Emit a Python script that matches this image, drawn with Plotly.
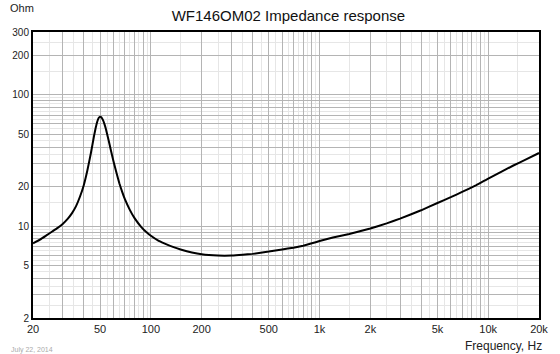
import plotly.graph_objects as go

# ---- data ----
freq_hz = [20, 22, 24, 26, 28, 30, 32, 34, 36, 38, 40, 42, 44, 46, 47, 48, 49, 50, 51, 52, 53,
           54, 56, 58, 60, 62.5, 65, 67.5, 70, 75, 80, 88, 95, 100, 110, 120, 135, 150, 175,
           200, 250, 300, 350, 400, 500, 600, 700, 800, 900, 1000, 1200, 1500, 2000, 2500,
           3000, 4000, 5000, 6000, 7000, 8500, 10000, 12000, 14000, 17000, 20000]
impedance_ohm = [7.4, 7.9, 8.5, 9.1, 9.7, 10.4, 11.3, 12.5, 14.2, 16.8, 20.5, 26.5, 35.5, 48.5,
                 55.5, 62, 66.5, 68, 67, 64, 60, 55.3, 45.7, 37.5, 31.2, 25.5, 21.2, 18.3, 16.1,
                 13.3, 11.5, 9.8, 8.9, 8.45, 7.8, 7.4, 6.95, 6.65, 6.3, 6.1, 5.97, 5.97, 6.05,
                 6.15, 6.4, 6.65, 6.85, 7.1, 7.4, 7.7, 8.2, 8.7, 9.6, 10.5, 11.4, 13.2, 15.0,
                 16.6, 18.2, 20.5, 23, 26, 28.8, 32.5, 36]

x_labels = {20: "20", 50: "50", 100: "100", 200: "200", 500: "500", 1000: "1k",
            2000: "2k", 5000: "5k", 10000: "10k", 20000: "20k"}
y_labels = {2: "2", 5: "5", 10: "10", 20: "20", 50: "50", 100: "100", 200: "200", 300: "300"}

title_text = "WF146OM02 Impedance response"
y_unit = "Ohm"
x_unit = "Frequency, Hz"
date_text = "July 22, 2014"


def grid_values(lo, hi):
    major, minor = [], []
    dec = 1
    while dec <= hi:
        for d in range(1, 10):
            v = d * dec
            if lo <= v <= hi:
                major.append(v)
            h = (d + 0.5) * dec
            if lo <= h <= hi:
                minor.append(h)
        dec *= 10
    return major, minor


xmaj, xmin = grid_values(20, 20000)
ymaj, ymin = grid_values(2, 300)

fig = go.Figure()
fig.add_trace(go.Scatter(x=freq_hz, y=impedance_ohm, mode="lines",
                         line=dict(color="black", width=2, shape="spline", smoothing=0.3),
                         hoverinfo="skip", showlegend=False))

font = "Liberation Sans, Arial, sans-serif"
fig.update_layout(
    width=560, height=354,
    margin=dict(l=29, r=12, t=32, b=36),
    paper_bgcolor="white", plot_bgcolor="white",
    font=dict(family=font, size=11, color="#222"),
    title=dict(text=title_text, x=0.515, xanchor="center", y=0.955, yanchor="middle",
               font=dict(size=15, color="#111")),
    xaxis=dict(type="log", range=[1.30103, 4.30103],
               tickvals=xmaj, ticktext=[x_labels.get(v, "") for v in xmaj],
               showgrid=True, gridcolor="#b4b4b4", gridwidth=1,
               minor=dict(tickvals=xmin, showgrid=True, gridcolor="#e6e6e6", gridwidth=1, ticks=""),
               ticks="", showline=True, linecolor="black", linewidth=2, mirror=True,
               zeroline=False, tickfont=dict(size=11, color="#222")),
    yaxis=dict(type="log", range=[0.30103, 2.4771213],
               tickvals=ymaj, ticktext=[y_labels.get(v, "") for v in ymaj],
               showgrid=True, gridcolor="#b4b4b4", gridwidth=1,
               minor=dict(tickvals=ymin, showgrid=True, gridcolor="#e6e6e6", gridwidth=1, ticks=""),
               ticks="", showline=True, linecolor="black", linewidth=2, mirror=True,
               zeroline=False, tickfont=dict(size=10, color="#222")),
    annotations=[
        dict(text=y_unit, xref="paper", yref="paper", x=-0.05, y=1.055, xanchor="left",
             yanchor="bottom", showarrow=False, font=dict(size=11, color="#222")),
        dict(text=x_unit, xref="paper", yref="paper", x=1.01, y=-0.068, xanchor="right",
             yanchor="top", showarrow=False, font=dict(size=12, color="#222")),
        dict(text=date_text, xref="paper", yref="paper", x=-0.047, y=-0.09, xanchor="left",
             yanchor="top", showarrow=False, font=dict(size=7, color="#aaa")),
    ],
)

fig.write_html("out.html")
